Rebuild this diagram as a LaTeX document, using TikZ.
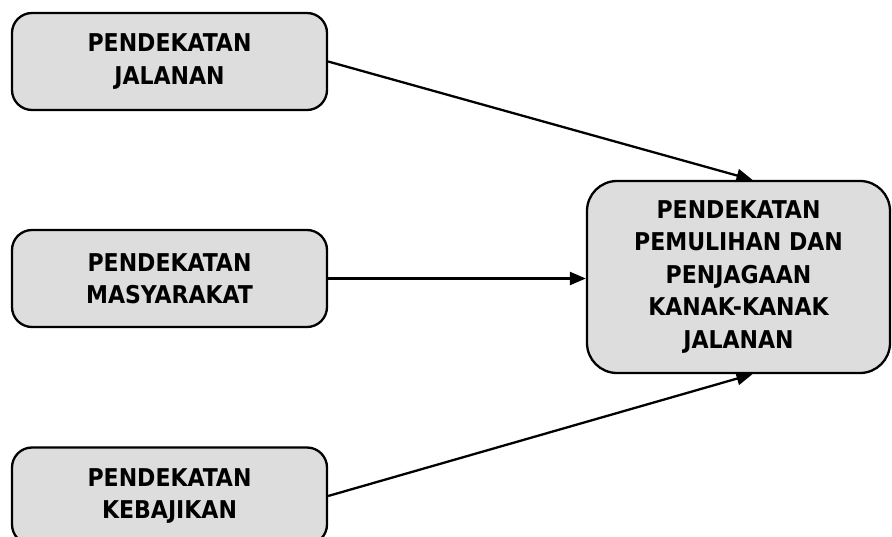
\documentclass[tikz,border=0pt]{standalone}
\usepackage{fontspec}
\setmainfont{DejaVu Sans Condensed}
\usetikzlibrary{arrows.meta}
\definecolor{boxgrey}{HTML}{DDDDDD}
\tikzset{
  boxnode/.style={draw=black, line width=2.3pt, fill=boxgrey, rounded corners=20pt,
    minimum width=315pt, minimum height=97pt, align=center, inner sep=0pt,
    font=\fontsize{24.5}{32.5}\selectfont\bfseries},
  bignode/.style={boxnode, rounded corners=30pt, minimum width=303pt, minimum height=192pt},
  conn/.style={line width=2.3pt, -{Triangle[length=16pt,width=13pt]}}
}
\begin{document}
\begin{tikzpicture}[x=1pt,y=-1pt]
\useasboundingbox (0,0) rectangle (892,537);
\node[boxnode] (b1) at (169.5,61.5) {PENDEKATAN\\JALANAN};
\node[boxnode] (b2) at (169.5,278.5) {PENDEKATAN\\MASYARAKAT};
\node[boxnode] (b3) at (169.5,496) {PENDEKATAN\\KEBAJIKAN};
\node[bignode] (r) at (738.5,277) {PENDEKATAN\\PEMULIHAN DAN\\PENJAGAAN\\KANAK-KANAK\\JALANAN};
\draw[conn] (b1.east) -- ([xshift=14pt]r.north);
\draw[conn] (b2.east) -- (r.west |- b2.east);
\draw[conn] (b3.east) -- ([xshift=14pt]r.south);
\end{tikzpicture}
\end{document}
